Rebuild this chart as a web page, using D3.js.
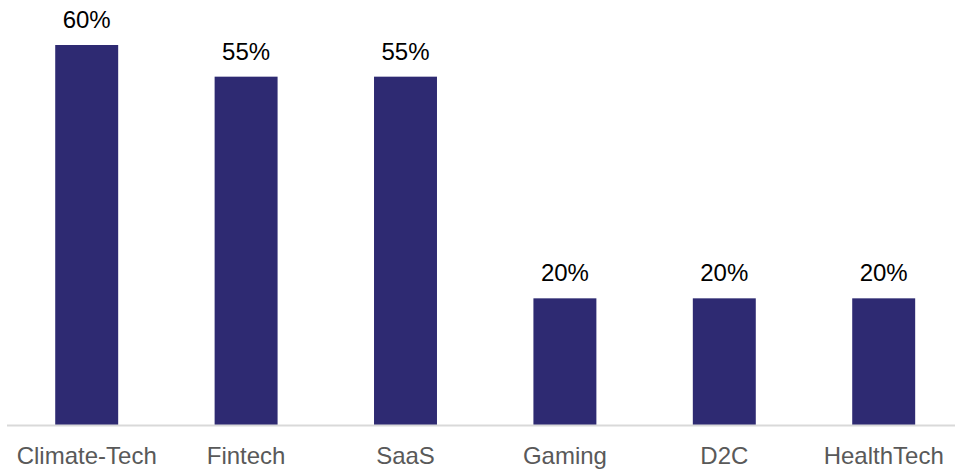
<!DOCTYPE html>
<html>
<head>
<meta charset="utf-8">
<script src="https://cdn.jsdelivr.net/npm/d3@7"></script>
<style>
  html, body { margin: 0; padding: 0; background: #fff; }
  svg { display: block; }
</style>
</head>
<body>
<svg id="chart" width="955" height="469"></svg>
<script>
const categories = ["Climate-Tech", "Fintech", "SaaS", "Gaming", "D2C", "HealthTech"];
const values = [60, 55, 55, 20, 20, 20];

const svg = d3.select("#chart");
const baseline = 425;
const font = "Liberation Sans, Arial, sans-serif";

const x = d3.scaleBand()
  .domain(categories)
  .range([7, 963.4])
  .paddingInner(0.605)
  .paddingOuter(0.3025);

const y = d3.scaleLinear()
  .domain([0, 60])
  .range([baseline, 45]);

const data = categories.map((c, i) => ({ cat: c, val: values[i] }));

// bars
svg.append("g")
  .selectAll("rect")
  .data(data)
  .join("rect")
  .attr("x", d => x(d.cat))
  .attr("y", d => y(d.val))
  .attr("width", x.bandwidth())
  .attr("height", d => y(0) - y(d.val))
  .attr("fill", "#2e2a72");

// baseline axis with category labels
const axis = svg.append("g")
  .attr("transform", `translate(0,${baseline})`)
  .call(d3.axisBottom(x).tickSize(0));
axis.select(".domain")
  .attr("d", "M7,0.5H955")
  .attr("stroke", "#d9d9d9")
  .attr("stroke-width", 2);
axis.selectAll("text")
  .attr("y", 39)
  .attr("dy", 0)
  .attr("fill", "#595959")
  .attr("font-family", font)
  .attr("font-size", "24px");

// value labels
svg.append("g")
  .selectAll("text")
  .data(data)
  .join("text")
  .attr("x", d => x(d.cat) + x.bandwidth() / 2)
  .attr("y", d => y(d.val) - 17)
  .attr("text-anchor", "middle")
  .attr("font-family", font)
  .attr("font-size", "24px")
  .attr("fill", "#000")
  .text(d => d.val + "%");
</script>
</body>
</html>
